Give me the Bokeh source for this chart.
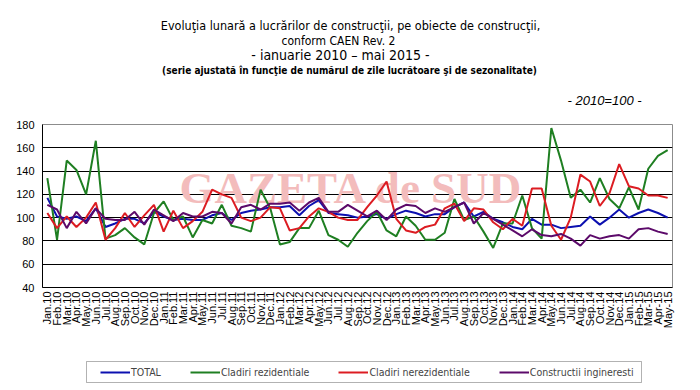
from math import pi
from bokeh.plotting import figure
from bokeh.models import FixedTicker, Label, Legend, LegendItem, BoxAnnotation, Range1d
from bokeh.layouts import column
from bokeh.embed import file_html
from bokeh.resources import INLINE

months = ["Jan.10", "Feb.10", "Mar.10", "Apr.10", "May.10", "Jun.10", "Jul.10", "Aug.10", "Sep.10", "Oct.10", "Nov.10", "Dec.10",
          "Jan.11", "Feb.11", "Mar.11", "Apr.11", "May.11", "Jun.11", "Jul.11", "Aug.11", "Sep.11", "Oct.11", "Nov.11", "Dec.11",
          "Jan.12", "Feb.12", "Mar.12", "Apr.12", "May.12", "Jun.12", "Jul.12", "Aug.12", "Sep.12", "Oct.12", "Nov.12", "Dec.12",
          "Jan.13", "Feb.13", "Mar.13", "Apr.13", "May.13", "Jun.13", "Jul.13", "Aug.13", "Sep.13", "Oct.13", "Nov.13", "Dec.13",
          "Jan.14", "Feb.14", "Mar.14", "Apr.14", "May.14", "Jun.14", "Jul.14", "Aug.14", "Sep.14", "Oct.14", "Nov.14", "Dec.14",
          "Jan.15", "Feb-15", "Mar-15", "Apr-15", "May-15"]

total = [117, 101, 99, 101, 97, 108, 92, 95, 99, 99, 95, 105,
         101, 98, 99, 98, 98, 102, 104, 98, 104, 106, 107, 109,
         109, 110, 102, 110, 115, 104, 103, 102, 100, 101, 103, 99,
         103, 106, 104, 101, 103, 103, 109, 113, 101, 105, 99, 96,
         92, 90, 99, 94, 94, 91, 92, 93, 101, 94, 100, 107,
         100, 104, 107, 104, 100]

rezidentiale = [134, 81, 149, 141, 120, 166, 82, 85, 91, 83, 77, 104,
                114, 98, 101, 83, 98, 95, 111, 93, 91, 88, 124, 108,
                77, 79, 91, 91, 106, 85, 81, 75, 87, 97, 105, 89,
                84, 101, 93, 81, 81, 87, 116, 98, 101, 88, 74, 95,
                95, 119, 91, 82, 177, 149, 117, 124, 113, 134, 116, 108,
                126, 107, 142, 153, 158]

nerezidentiale = [104, 91, 101, 92, 100, 113, 81, 91, 104, 92, 102, 111,
                  88, 106, 91, 97, 105, 124, 120, 117, 100, 97, 100, 109,
                  108, 89, 91, 101, 108, 105, 100, 98, 98, 109, 119, 131,
                  99, 89, 87, 92, 94, 108, 112, 97, 108, 107, 96, 90,
                  99, 93, 125, 125, 93, 81, 100, 137, 131, 110, 121, 146,
                  127, 125, 119, 119, 117]

ingineresti = [111, 107, 91, 105, 95, 108, 99, 98, 98, 105, 94, 107,
               102, 97, 104, 101, 101, 105, 104, 95, 109, 111, 107, 112,
               112, 113, 106, 113, 117, 105, 105, 111, 106, 101, 106, 98,
               107, 111, 110, 104, 108, 105, 109, 113, 95, 104, 99, 94,
               89, 84, 90, 85, 84, 86, 82, 76, 85, 82, 84, 85,
               82, 90, 91, 88, 86]

y_ticks = [40, 60, 80, 100, 120, 140, 160, 180]
grid_ticks = [60, 80, 100, 120, 140, 160]

series_names = ["TOTAL", "Cladiri rezidentiale", "Cladiri nerezidentiale", "Constructii ingineresti"]
series_colors = ["#0c10b0", "#1f7f22", "#dc1c22", "#5c0a6a"]
series_values = [total, rezidentiale, nerezidentiale, ingineresti]

title_lines = ["Evoluţia lunară a lucrărilor de construcţii, pe obiecte de construcţii,",
               "conform CAEN Rev. 2",
               "- ianuarie 2010 – mai 2015 -",
               "(serie ajustată în funcţie de numărul de zile lucrătoare şi de sezonalitate)"]
base_note = "- 2010=100 -"

NARROW = "'Liberation Sans Narrow', 'Arial Narrow', 'DejaVu Sans Condensed', sans-serif"
SANS = "'Liberation Sans', Arial, sans-serif"

BL, BR, FW = 42, 28, 630   # shared left border, right border, frame width


def blank(top_px, bottom_px):
    h = bottom_px - top_px
    f = figure(frame_width=FW, frame_height=h, output_backend="svg", toolbar_location=None,
               x_range=Range1d(BL, BL + FW), y_range=Range1d(bottom_px, top_px),
               min_border_left=BL, min_border_right=BR, min_border_top=0, min_border_bottom=0)
    f.axis.visible = False
    f.grid.visible = False
    f.outline_line_color = None
    f.background_fill_color = "white"
    f.border_fill_color = "white"
    return f


# ---------- titles (page y 0..116) ----------
top = blank(0, 116)
title_pos = [(350, 25, "12.5px", "normal"), (338, 40, "12px", "normal"),
             (340, 54, "14px", "normal"), (349, 70, "10px", "bold")]
for t, (cx, cy, fs, st) in zip(title_lines, title_pos):
    top.add_layout(Label(x=cx, y=cy, text=t, text_font=NARROW, text_font_size=fs,
                         text_font_style=st, text_color="black", text_align="center",
                         text_baseline="middle"))
top.add_layout(Label(x=567, y=100, text=base_note, text_font=SANS, text_font_size="13px",
                     text_font_style="italic", text_color="black", text_align="left",
                     text_baseline="middle"))

# ---------- main chart (page y 116..336) ----------
x = list(range(len(months)))
p = figure(frame_width=FW, frame_height=163, output_backend="svg", toolbar_location=None,
           x_range=Range1d(-0.5, len(months) - 0.5), y_range=Range1d(40, 180),
           min_border_left=BL, min_border_right=BR, min_border_top=8, min_border_bottom=49)
p.background_fill_color = "white"
p.border_fill_color = "white"
p.outline_line_color = "#8c8c8c"
p.outline_line_width = 1

p.xgrid.visible = False
p.ygrid.ticker = FixedTicker(ticks=grid_ticks)
p.ygrid.grid_line_color = "black"
p.ygrid.grid_line_width = 1

p.yaxis.ticker = FixedTicker(ticks=y_ticks)
p.yaxis.major_tick_in = 0
p.yaxis.major_tick_out = 0
p.yaxis.minor_tick_line_color = None
p.yaxis.major_label_standoff = 8
p.yaxis.major_label_text_font = SANS
p.yaxis.major_label_text_font_size = "11px"
p.yaxis.major_label_text_color = "black"
p.yaxis.axis_line_color = "black"

p.xaxis.ticker = FixedTicker(ticks=x)
p.xaxis.major_label_overrides = {i: m for i, m in enumerate(months)}
p.xaxis.major_label_orientation = pi / 2
p.xaxis.major_tick_in = 0
p.xaxis.major_tick_out = 0
p.xaxis.minor_tick_line_color = None
p.xaxis.major_label_standoff = 4
p.xaxis.major_label_text_font = SANS
p.xaxis.major_label_text_font_size = "11px"
p.xaxis.major_label_text_color = "black"
p.xaxis.axis_line_color = "black"

p.add_layout(Label(x=309, y=100, x_units="screen", y_units="screen", text="GAZETA de SUD",
                   text_font="'Liberation Serif', serif", text_font_style="bold", text_font_size="45px",
                   text_color="#f3bcbc", text_align="center", text_baseline="middle", level="underlay"))

for data, color in zip(series_values, series_colors):
    p.line(x, data, line_color=color, line_width=2)

# ---------- legend (page y 336..390) ----------
leg = blank(336, 390)
leg.add_layout(BoxAnnotation(left=86, right=641, top=361, bottom=382,
                             fill_color="white", fill_alpha=1, line_color="black", line_width=1))
# legend sample renderers: first two points of each series, outside this strip's visible range
dummies = [leg.line(x[:2], data[:2], line_color=c, line_width=2)
           for data, c in zip(series_values, series_colors)]
legend = Legend(items=[LegendItem(label=n, renderers=[r]) for n, r in zip(series_names, dummies)],
                orientation="horizontal", location=(100 - BL, 390 - 377.5),
                padding=0, margin=0, spacing=29, glyph_width=30, glyph_height=12, label_height=12,
                label_standoff=1, label_text_font=NARROW, label_text_font_size="10.5px",
                border_line_color=None, background_fill_alpha=0)
leg.add_layout(legend, "center")

layout = column(top, p, leg, spacing=0)
open("out.html", "w").write(file_html(layout, INLINE))
